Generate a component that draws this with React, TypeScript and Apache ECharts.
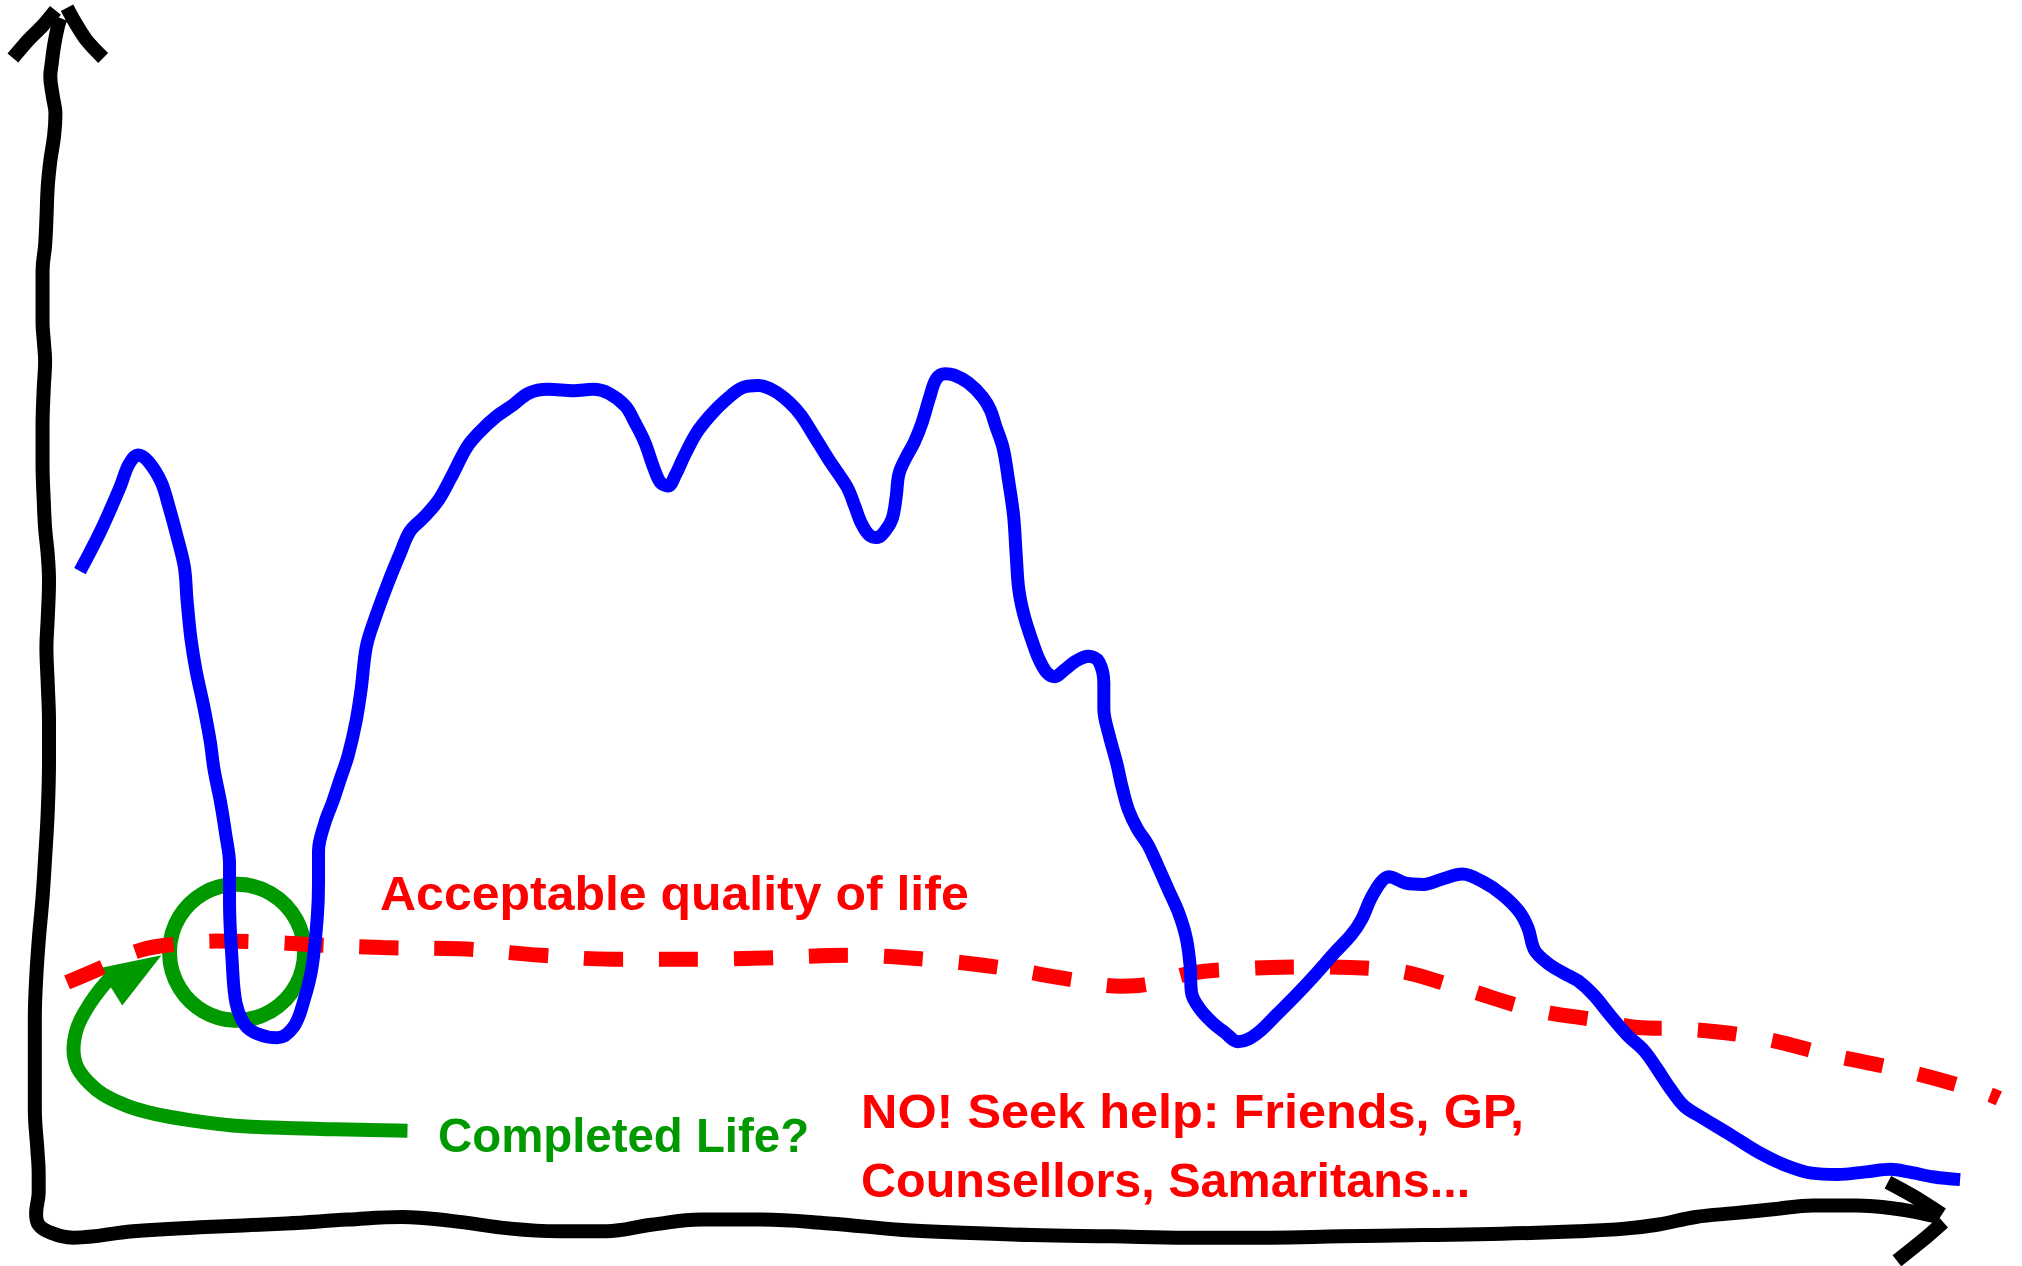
import React, { useEffect, useRef } from "react";
import * as echarts from "echarts";

// Frame: x 0..1568 (left→right), y 0..982 (top→bottom, inverted axis)
const blueX = [62,78,93,100,107,115,125,131,137,143,145,148,152,158,163,166,171,175,178,178,180,183,190,200,215,228,236,242,246,247,247,252,258,264,270,276,280,284,290,301,310,318,329,340,350,362,372,385,398,410,425,445,460,472,485,492,500,507,512,518,524,530,540,551,562,575,588,600,612,621,630,643,657,663,668,674,680,687,692,695,697,702,709,715,721,726,733,740,751,762,768,772,778,782,786,788,790,794,800,806,812,818,825,834,844,852,856,856,860,866,870,875,882,890,898,906,914,920,923,924,930,940,950,960,968,978,990,1005,1020,1035,1048,1056,1063,1071,1077,1090,1104,1118,1134,1150,1165,1178,1185,1190,1200,1213,1224,1236,1249,1262,1275,1285,1295,1306,1320,1340,1364,1385,1405,1425,1447,1466,1480,1500,1520];
const blueY = [443,412,378,360,353,358,374,393,415,440,465,495,520,548,575,597,622,647,670,700,745,778,795,802,805,796,775,750,712,685,660,638,622,604,586,560,535,502,482,452,430,412,401,388,370,347,335,323,314,305,302,303,302,305,315,327,343,363,374,377,368,355,336,322,311,301,299,303,312,322,336,357,378,393,406,415,417,411,402,385,368,356,343,328,308,294,290,291,297,308,318,330,348,372,400,430,457,477,496,512,522,525,520,513,509,513,530,550,570,592,610,628,643,655,672,690,708,728,750,770,782,793,801,808,806,799,787,772,756,739,725,713,697,684,680,685,686,682,678,684,694,707,720,737,747,755,761,772,788,803,815,829,844,858,867,879,894,904,910,911,909,907,909,913,915];

const redX = [52,80,109,140,168,210,247,297,356,420,475,544,593,658,717,772,832,870,893,923,953,1014,1074,1128,1189,1243,1270,1304,1364,1418,1479,1540,1550];
const redY = [762,750,737,732,730,731,733,735,736,741,744,744,743,741,744,750,760,765,763,755,752,750,752,765,783,792,797,798,805,818,831,848,852];

const axisX = [47,45,42,40,39,41,43,42,39,37,36,35,33,33,33,34,35,34,33,33,34,35,37,38,37,36,37,38,38,37,35,33,30,28,27,27,27,29,30,30,28,30,39,57,103,155,222,270,312,350,396,433,470,505,544,590,643,700,742,800,862,920,983,1040,1104,1165,1224,1260,1285,1315,1345,1375,1406,1440,1466,1485,1503];
const axisY = [14,20,35,50,59,75,88,105,125,145,170,190,210,232,250,265,280,300,330,360,390,410,430,450,480,502,530,560,590,630,665,696,730,760,790,827,860,892,910,925,941,950,956,960,955,952,949,946,944,947,953,955,955,950,946,946,949,954,956,958,959,960,960,959,958,957,955,953,950,944,941,938,935,935,937,940,944];

const yArrowLeftX = [10,22,33,43];
const yArrowLeftY = [45,31,20,8];
const yArrowRightX = [52,58,67,80];
const yArrowRightY = [6,17,31,45];
const xArrowUpX = [1464,1484,1506];
const xArrowUpY = [917,928,942];
const xArrowDownX = [1507,1491,1471];
const xArrowDownY = [948,962,978];

const greenX = [316,260,222,180,148,120,99,80,69,60,57,59,63,70,78,86];
const greenY = [877,876,875,873,869,864,858,849,840,828,814,800,790,778,767,758];
const circleCenter = [183.8, 738.7];
const arrowHeadCenter = [105.5, 753.2];

const labels = [
  { text: "Acceptable quality of life", color: "#ff0000" },
  { text: "Completed Life?", color: "#009900" },
  { text: "NO! Seek help: Friends, GP,", color: "#ff0000" },
  { text: "Counsellors, Samaritans...", color: "#ff0000" },
];

const pairs = (xs: number[], ys: number[]) => xs.map((x, i) => [x, ys[i]]);

const FONT = 'bold 49px "Liberation Sans", Arial, sans-serif';

export default function App() {
  const ref = useRef<HTMLDivElement>(null);
  useEffect(() => {
    document.body.style.margin = "0";
    const chart = echarts.init(ref.current!, null, { renderer: "svg" });
    const ctx = document.createElement("canvas").getContext("2d")!;
    ctx.font = FONT;
    const blackLine = (xs: number[], ys: number[], smooth: boolean | number, cap: string) => ({
      type: "line",
      data: pairs(xs, ys),
      smooth,
      symbol: "none",
      silent: true,
      lineStyle: { color: "#000", width: 14, cap, join: "round" },
    });
    // layout: left x, vertical middle y, target rendered width (px)
    const textPos = [
      { x: 380, y: 893, w: 589 },
      { x: 438, y: 1135, w: 371 },
      { x: 861, y: 1111, w: 663 },
      { x: 861, y: 1180, w: 609 },
    ];
    chart.setOption({
      animation: false,
      backgroundColor: "#ffffff",
      grid: { left: 0, right: 0, top: 0, bottom: 0, containLabel: false },
      xAxis: { type: "value", min: 0, max: 1568, show: false },
      yAxis: { type: "value", min: 0, max: 982, inverse: true, show: false },
      series: [
        blackLine(axisX, axisY, 0.4, "butt"),
        blackLine(yArrowLeftX, yArrowLeftY, 0.3, "butt"),
        blackLine(yArrowRightX, yArrowRightY, 0.3, "butt"),
        blackLine(xArrowUpX, xArrowUpY, 0.3, "butt"),
        blackLine(xArrowDownX, xArrowDownY, 0.3, "butt"),
        {
          type: "line",
          data: pairs(redX, redY),
          smooth: 0.4,
          symbol: "none",
          silent: true,
          lineStyle: { color: "#ff0000", width: 15, type: [39, 36], cap: "butt" },
        },
        {
          type: "line",
          data: pairs(blueX, blueY),
          smooth: 0.35,
          symbol: "none",
          silent: true,
          lineStyle: { color: "#0000ff", width: 13, cap: "butt", join: "round" },
        },
        {
          type: "line",
          data: pairs(greenX, greenY),
          smooth: 0.4,
          symbol: "none",
          silent: true,
          lineStyle: { color: "#009900", width: 14, cap: "butt", join: "round" },
        },
        {
          type: "scatter",
          data: [circleCenter],
          symbol: "circle",
          symbolSize: [135, 136],
          silent: true,
          itemStyle: { color: "rgba(0,0,0,0)", borderColor: "#009900", borderWidth: 15, opacity: 1 },
        },
        {
          type: "scatter",
          data: [arrowHeadCenter],
          symbol: "triangle",
          symbolSize: [44, 60],
          symbolRotate: -58,
          silent: true,
          itemStyle: { color: "#009900", opacity: 1 },
        },
      ],
      graphic: labels.map((l, i) => {
        const measured = ctx.measureText(l.text).width || textPos[i].w;
        return {
          type: "text",
          x: textPos[i].x,
          y: textPos[i].y,
          scaleX: textPos[i].w / measured,
          scaleY: 1,
          originX: 0,
          originY: 0,
          silent: true,
          style: {
            text: l.text,
            fill: l.color,
            font: FONT,
            align: "left",
            verticalAlign: "middle",
          },
        };
      }),
    });
    return () => chart.dispose();
  }, []);
  return (
    <div
      ref={ref}
      style={{ position: "absolute", left: 0, top: 0, width: 2022, height: 1266, background: "#fff" }}
    />
  );
}
